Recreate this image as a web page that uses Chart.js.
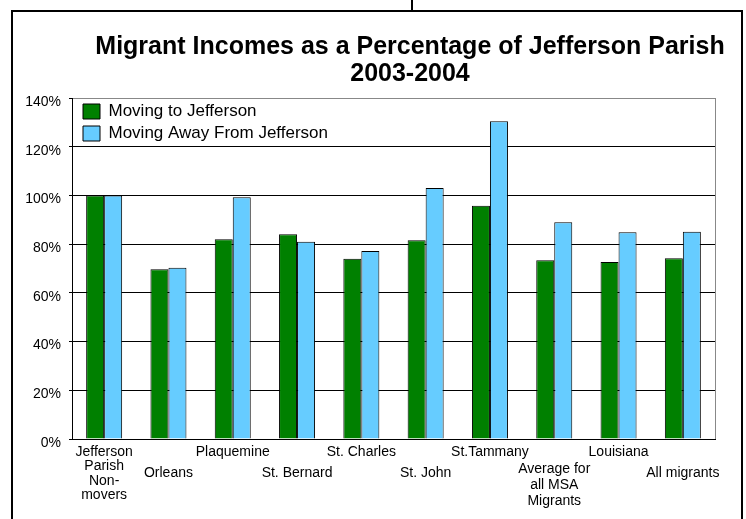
<!DOCTYPE html>
<html><head><meta charset="utf-8">
<script src="https://cdn.jsdelivr.net/npm/chart.js@4"></script>
<style>
html,body{margin:0;padding:0;overflow:hidden;background:#fff;width:746px;height:519px;}
#frame{position:absolute;left:11px;top:10px;width:728px;height:530px;border:2px solid #000;}
#stem{position:absolute;left:411px;top:0;width:2px;height:11px;background:#000;}
#wrap{position:absolute;left:0;top:0;width:746px;height:519px;}
</style></head><body>
<div id="stem"></div><div id="frame"></div>
<div id="wrap"><canvas id="c"></canvas></div>
<script>
const categories = [
  ['Jefferson','Parish','Non-','movers'],
  'Orleans',
  'Plaquemine',
  'St. Bernard',
  'St. Charles',
  'St. John',
  'St.Tammany',
  ['Average for','all MSA','Migrants'],
  'Louisiana',
  'All migrants'
];
const movingTo   = [100, 69.7, 82.0, 84.1, 74.0, 81.6, 95.8, 73.4, 72.7, 74.2];
const movingAway = [100, 70.3, 99.3, 81.0, 77.2, 103.0, 130.5, 89.0, 84.9, 85.1];
const seriesNames = ['Moving to Jefferson', 'Moving Away From Jefferson'];
const titleLines = ['Migrant Incomes as a Percentage of Jefferson Parish', '2003-2004'];
const yMax = 140, yStep = 20;

const FONT = "'Liberation Sans', Arial, sans-serif";

const placeBoxes = {
  id: 'placeBoxes',
  afterLayout(chart) {
    const a = chart.chartArea;
    const L = chart.legend;
    if (L) {
      const h = L.height, w = L.width;
      L.top = a.top; L.bottom = a.top + h;
      L.left = a.left + 6; L.right = L.left + w;
    }
    const T = chart.titleBlock;
    if (T) { T.left = 0; T.right = 820; T.width = 820; }
  }
};

const plotFrame = {
  id: 'plotFrame',
  beforeDatasetsDraw(chart) {
    const a = chart.chartArea, ctx = chart.ctx;
    ctx.save();
    ctx.strokeStyle = '#888';
    ctx.lineWidth = 1;
    ctx.beginPath();
    ctx.moveTo(Math.round(a.right) + 0.5, a.top);
    ctx.lineTo(Math.round(a.right) + 0.5, a.bottom);
    ctx.stroke();
    ctx.restore();
  }
};

new Chart(document.getElementById('c'), {
  type: 'bar',
  data: {
    labels: categories.map((c, i) => 'c' + i),
    datasets: [
      { label: seriesNames[0], data: movingTo, backgroundColor: '#008000', borderColor: '#000', borderWidth: 1 },
      { label: seriesNames[1], data: movingAway, backgroundColor: '#66CCFF', borderColor: '#000', borderWidth: 1 }
    ]
  },
  options: {
    responsive: true,
    maintainAspectRatio: false,
    devicePixelRatio: 1,
    animation: false,
    layout: { padding: { left: 12, right: 31, top: 0, bottom: 0 } },
    datasets: { bar: { barPercentage: 1.0, categoryPercentage: 0.56 } },
    plugins: {
      title: {
        display: true,
        text: titleLines,
        color: '#000',
        font: { family: FONT, size: 25, weight: 'bold', lineHeight: '27px' },
        padding: { top: 34, bottom: 10 }
      },
      legend: {
        position: 'chartArea',
        align: 'start',
        onClick: null,
        labels: {
          boxWidth: 17, boxHeight: 15, padding: 5, color: '#000',
          font: { family: FONT, size: 17 }
        }
      },
      tooltip: { enabled: false }
    },
    scales: {
      x: {
        grid: { display: false, drawTicks: false },
        border: { display: true, color: '#000', width: 1 },
        afterFit(scale) { scale.height = 80; },
        ticks: {
          autoSkip: false, maxRotation: 0, minRotation: 0, padding: 6, color: '#000',
          callback: (v, i) => {
            const lab = categories[i];
            const lines = Array.isArray(lab) ? lab : [lab];
            return i % 2 ? [''].concat(lines) : lines;
          },
          font: (ctx) => {
            const i = ctx.index;
            let lh = '14.4px';
            if (i % 2) lh = Array.isArray(categories[i]) ? '16px' : '19px';
            return { family: FONT, size: 14, lineHeight: lh };
          }
        }
      },
      y: {
        min: 0, max: yMax,
        afterFit(scale) { scale.width = 60; },
        ticks: {
          stepSize: yStep, color: '#000', padding: 8, labelOffset: 4,
          font: { family: FONT, size: 14 },
          callback: (v) => v + '%'
        },
        grid: {
          color: (ctx) => (ctx.tick && ctx.tick.value === yMax) ? '#888' : '#000',
          tickColor: '#000', tickLength: 3, lineWidth: 1
        },
        border: { display: true, color: '#000', width: 1 }
      }
    }
  },
  plugins: [placeBoxes, plotFrame]
});
</script>
</body></html>
